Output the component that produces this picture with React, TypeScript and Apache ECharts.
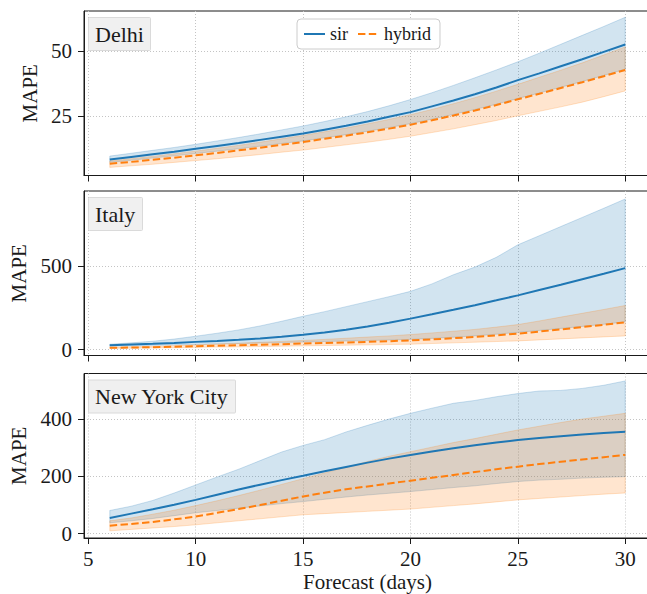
import React, { useEffect, useRef } from 'react';
import * as echarts from 'echarts';

const days = [6, 7, 8, 9, 10, 11, 12, 13, 14, 15, 16, 17, 18, 19, 20, 21, 22, 23, 24, 25, 26, 27, 28, 29, 30];

// Delhi
const delhiSir = [8.5, 9.5, 10.5, 11.5, 12.6, 13.7, 14.8, 16.0, 17.2, 18.4, 19.9, 21.4, 23.0, 24.8, 26.6, 28.8, 31.0, 33.4, 36.0, 38.8, 41.4, 44.1, 46.8, 49.6, 52.4];
const delhiSirHi = [9.8, 10.9, 12.0, 13.1, 14.3, 15.6, 16.9, 18.3, 19.8, 21.3, 23.0, 24.8, 26.8, 29.0, 31.4, 34.0, 36.8, 39.7, 42.7, 45.8, 49.1, 52.5, 55.9, 59.3, 62.8];
const delhiSirLo = [7.4, 8.2, 9.1, 9.9, 10.8, 11.7, 12.6, 13.6, 14.6, 15.6, 16.8, 18.0, 19.3, 20.7, 22.2, 23.9, 25.7, 27.6, 29.6, 31.8, 33.9, 36.1, 38.3, 40.6, 43.0];
const delhiHyb = [6.9, 7.6, 8.4, 9.2, 10.1, 11.0, 12.0, 13.0, 14.1, 15.2, 16.4, 17.6, 18.9, 20.3, 21.8, 23.5, 25.3, 27.2, 29.3, 31.5, 33.6, 35.8, 38.0, 40.3, 42.7];
const delhiHybHi = [7.9, 8.8, 9.7, 10.7, 11.7, 12.8, 13.9, 15.1, 16.4, 17.7, 19.1, 20.5, 22.1, 23.8, 25.6, 27.6, 29.8, 32.1, 34.6, 37.2, 39.9, 42.6, 45.4, 48.4, 51.5];
const delhiHybLo = [5.5, 6.1, 6.7, 7.4, 8.1, 8.8, 9.6, 10.4, 11.3, 12.1, 13.1, 14.1, 15.1, 16.2, 17.4, 18.8, 20.2, 21.8, 23.4, 25.2, 26.9, 28.6, 30.4, 32.5, 34.7];

// Italy
const italySir = [26, 30, 34, 39, 46, 52, 59, 67, 77, 89, 103, 119, 139, 161, 186, 212, 239, 267, 296, 326, 358, 390, 423, 456, 490];
const italySirHi = [32, 40, 50, 63, 80, 98, 118, 142, 170, 200, 228, 258, 288, 318, 350, 395, 450, 496, 555, 630, 685, 740, 795, 850, 906];
const italySirLo = [20, 22, 25, 27, 30, 33, 36, 39, 42, 45, 48, 51, 54, 57, 61, 67, 74, 82, 92, 103, 115, 127, 139, 152, 166];
const italyHyb = [10, 12, 14, 17, 20, 23, 26, 29, 32, 36, 39, 42, 46, 50, 55, 61, 68, 76, 85, 96, 108, 121, 135, 149, 164];
const italyHybHi = [13, 16, 19, 23, 28, 33, 38, 44, 49, 55, 61, 68, 75, 82, 90, 100, 110, 121, 135, 150, 172, 195, 218, 241, 265];
const italyHybLo = [7, 8, 10, 11, 13, 15, 16, 18, 20, 22, 24, 26, 28, 30, 32, 36, 40, 44, 48, 52, 58, 64, 70, 76, 82];

// New York City
const nycSir = [55, 70, 85, 101, 118, 136, 154, 171, 187, 202, 218, 233, 248, 262, 275, 287, 298, 309, 318, 327, 334, 340, 346, 351, 356];
const nycSirHi = [81, 96, 116, 142, 170, 198, 225, 255, 285, 308, 328, 355, 378, 400, 420, 438, 455, 465, 478, 489, 498, 500, 507, 518, 533];
const nycSirLo = [38, 45, 53, 63, 73, 81, 89, 97, 105, 112, 120, 128, 135, 141, 147, 154, 161, 167, 175, 182, 187, 190, 194, 197, 199];
const nycHyb = [28, 34, 41, 50, 60, 73, 86, 100, 115, 130, 143, 155, 165, 175, 185, 195, 205, 215, 225, 234, 243, 251, 259, 267, 275];
const nycHybHi = [45, 55, 68, 82, 98, 115, 133, 152, 172, 192, 212, 232, 252, 270, 286, 302, 318, 332, 347, 362, 375, 388, 400, 410, 420];
const nycHybLo = [10, 15, 20, 25, 31, 38, 45, 52, 59, 66, 70, 74, 78, 82, 86, 92, 98, 104, 111, 118, 123, 128, 133, 138, 142];

const xTicks = [5, 10, 15, 20, 25, 30];
const delhiTicks = [25, 50];
const italyTicks = [0, 500];
const nycTicks = [0, 200, 400];
const panelTitles = ['Delhi', 'Italy', 'New York City'];
const seriesNames = ['sir', 'hybrid'];

const FONT = '"Liberation Serif", "Times New Roman", serif';
const TXT = '#1a1a1a';
const C0 = '#1f77b4';
const C1 = '#ff7f0e';

const panels = [
  { sir: delhiSir, sirHi: delhiSirHi, sirLo: delhiSirLo, hyb: delhiHyb, hybHi: delhiHybHi, hybLo: delhiHybLo, ticks: delhiTicks, yMin: 2.4, yMax: 65.2, top: 11 },
  { sir: italySir, sirHi: italySirHi, sirLo: italySirLo, hyb: italyHyb, hybHi: italyHybHi, hybLo: italyHybLo, ticks: italyTicks, yMin: -36, yMax: 954, top: 191 },
  { sir: nycSir, sirHi: nycSirHi, sirLo: nycSirLo, hyb: nycHyb, hybHi: nycHybHi, hybLo: nycHybLo, ticks: nycTicks, yMin: -15, yMax: 559, top: 373.5 },
];

function bandSeries(i: number, lo: number[], hi: number[], fill: string, edge: string) {
  return {
    type: 'custom', xAxisIndex: i, yAxisIndex: i, z: 1, silent: true,
    data: days.map((d, j) => [d, lo[j], hi[j]]),
    encode: { x: 0, y: [1, 2] },
    renderItem: (params: any, api: any) => {
      if (params.dataIndex !== 0) return null;
      const pts: number[][] = [];
      for (let j = 0; j < days.length; j++) pts.push(api.coord([days[j], hi[j]]));
      for (let j = days.length - 1; j >= 0; j--) pts.push(api.coord([days[j], lo[j]]));
      return { type: 'polygon', shape: { points: pts }, style: { fill, stroke: edge, lineWidth: 1 } };
    },
  };
}

function buildOption() {
  const grid: any[] = [];
  const xAxis: any[] = [];
  const yAxis: any[] = [];
  const series: any[] = [];
  const title: any[] = [];
  const gridLine = { show: true, lineStyle: { color: '#c4c4c4', width: 1, type: [1, 2] } };

  panels.forEach((p, i) => {
    grid.push({ left: 84, width: 567, top: p.top, height: 164.5, show: true, borderColor: TXT, borderWidth: 1, backgroundColor: 'transparent', outerBoundsMode: 'none', containLabel: false });
    xAxis.push({
      type: 'value', gridIndex: i, min: 4.8, max: 31.2,
      axisLine: { show: true, onZero: false, lineStyle: { color: TXT, width: 1 } },
      axisTick: { show: true, length: 6, customValues: xTicks, lineStyle: { color: TXT, width: 1 } },
      axisLabel: { show: i === 2, customValues: xTicks, margin: 10, fontFamily: FONT, fontSize: 21, color: TXT },
      splitLine: gridLine,
      name: i === 2 ? 'Forecast (days)' : '',
      nameLocation: 'middle', nameGap: 33,
      nameTextStyle: { fontFamily: FONT, fontSize: 21, color: TXT },
    });
    yAxis.push({
      type: 'value', gridIndex: i, min: p.yMin, max: p.yMax,
      axisLine: { show: true, onZero: false, lineStyle: { color: TXT, width: 1 } },
      axisTick: { show: true, length: 6, customValues: p.ticks, lineStyle: { color: TXT, width: 1 } },
      axisLabel: { show: true, customValues: p.ticks, margin: 12, fontFamily: FONT, fontSize: 21, color: TXT },
      splitLine: gridLine,
      name: 'MAPE', nameLocation: 'middle', nameGap: 44, nameRotate: 90,
      nameTextStyle: { fontFamily: FONT, fontSize: 21, color: TXT },
    });
    series.push(bandSeries(i, p.sirLo, p.sirHi, 'rgba(31,119,180,0.2)', 'rgba(31,119,180,0.22)'));
    series.push(bandSeries(i, p.hybLo, p.hybHi, 'rgba(255,127,14,0.2)', 'rgba(255,127,14,0.22)'));
    series.push({
      type: 'line', name: 'sir', xAxisIndex: i, yAxisIndex: i, z: 3,
      data: days.map((d, j) => [d, p.sir[j]]), symbol: 'none', color: C0,
      lineStyle: { color: C0, width: 2 },
    });
    series.push({
      type: 'line', name: 'hybrid', xAxisIndex: i, yAxisIndex: i, z: 3,
      data: days.map((d, j) => [d, p.hyb[j]]), symbol: 'none', color: C1,
      lineStyle: { color: C1, width: 2, type: [7.4, 3.4] },
    });
    title.push({
      text: panelTitles[i], left: 88, top: p.top + 6,
      backgroundColor: '#f0f0f0', borderColor: '#dadada', borderWidth: 1, borderRadius: 1,
      padding: [6, 7, 6, 7],
      textStyle: { fontFamily: FONT, fontSize: 22, fontWeight: 'normal', color: TXT, lineHeight: 22 },
    });
  });

  return {
    animation: false,
    backgroundColor: '#ffffff',
    grid, xAxis, yAxis, series, title,
    legend: {
      data: seriesNames, left: 297, top: 19,
      backgroundColor: '#ffffff', borderColor: '#cccccc', borderWidth: 1, borderRadius: 4,
      padding: [6, 9, 6, 6], itemGap: 9, itemWidth: 21, itemHeight: 14,
      itemStyle: { color: 'transparent', opacity: 0, borderWidth: 0 },
      textStyle: { fontFamily: FONT, fontSize: 18, color: TXT },
    },
  };
}

export default function App() {
  const ref = useRef<HTMLDivElement>(null);
  useEffect(() => {
    if (!ref.current) return;
    const chart = echarts.init(ref.current, null, { renderer: 'svg' });
    chart.setOption(buildOption() as any);
    return () => chart.dispose();
  }, []);
  return <div ref={ref} style={{ position: 'fixed', left: 0, top: 0, width: 647, height: 594, background: '#fff' }} />;
}
